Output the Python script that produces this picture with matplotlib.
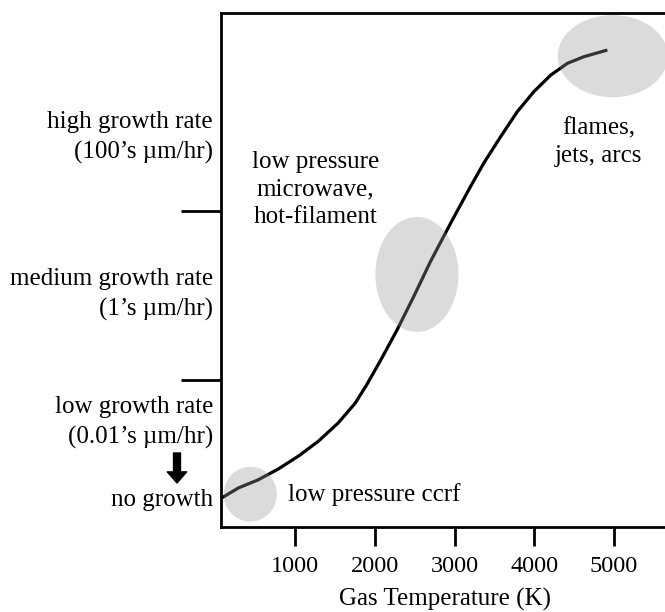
import numpy as np
import matplotlib.pyplot as plt
from matplotlib.patches import Ellipse

plt.rcParams['font.family'] = ['Liberation Serif', 'DejaVu Serif']

# growth curve vs gas temperature (y is a relative growth-rate scale, 0..1)
temp_k = [69, 283, 535, 786, 1038, 1289, 1541, 1751, 1893, 2069, 2279, 2488,
          2698, 2908, 3050, 3201, 3369, 3579, 3789, 3998, 4208, 4418, 4627, 4921]
growth = [0.055, 0.075, 0.091, 0.112, 0.137, 0.166, 0.202, 0.240, 0.275, 0.323,
          0.383, 0.448, 0.516, 0.578, 0.619, 0.662, 0.708, 0.759, 0.808, 0.847,
          0.879, 0.902, 0.915, 0.928]

x_ticks = [1000, 2000, 3000, 4000, 5000]
rate_bounds = [0.286, 0.615]

# regimes: (center T, center y, width T, height y)
regimes = [
    (434, 0.063, 667, 0.107),
    (2528, 0.491, 1044, 0.224),
    (4988, 0.916, 1384, 0.160),
]

rate_labels = [
    (0.758, "high growth rate\n(100\u2019s \u00b5m/hr)"),
    (0.451, "medium growth rate\n(1\u2019s \u00b5m/hr)"),
    (0.202, "low growth rate\n(0.01\u2019s \u00b5m/hr)"),
]

fig = plt.figure(figsize=(6.65, 6.12), dpi=100)
ax = fig.add_axes([0.3316, 0.1397, 0.675, 0.839])

ax.plot(temp_k, growth, color='black', lw=2.3, solid_joinstyle='round',
        solid_capstyle='butt', zorder=2)

for cx, cy, w, h in regimes:
    ax.add_patch(Ellipse((cx, cy), w, h, facecolor='#979797', alpha=0.34,
                         edgecolor='none', zorder=3))

ax.set_xlim(60, 5700)
ax.set_ylim(0, 1)

for side in ['left', 'top', 'bottom']:
    ax.spines[side].set_linewidth(2)
ax.spines['right'].set_visible(False)

ax.set_xticks(x_ticks)
ax.tick_params(axis='x', direction='out', length=14, width=2, pad=7, labelsize=17.5)
ax.set_yticks(rate_bounds)
ax.set_yticklabels([])
ax.tick_params(axis='y', direction='out', length=29, width=2)

ax.set_xlabel("Gas Temperature (K)", fontsize=18, labelpad=8)

ytr = ax.get_yaxis_transform()
for y, txt in rate_labels:
    ax.text(-0.017, y, txt, transform=ytr, ha='right', va='center',
            fontsize=18, linespacing=1.45)
ax.text(-0.017, 0.052, "no growth", transform=ytr, ha='right', va='center', fontsize=18)

# down arrow between "low growth rate" and "no growth"
ax.annotate('', xy=(177, 129), xytext=(177, 159), xycoords='figure pixels',
            textcoords='figure pixels',
            arrowprops=dict(arrowstyle='simple,head_length=8,head_width=14,tail_width=5',
                            mutation_scale=1, color='black', shrinkA=0, shrinkB=0))

ax.text(912, 0.062, "low pressure ccrf", ha='left', va='center', fontsize=18)
ax.text(1250, 0.657, "low pressure\nmicrowave,\nhot-filament", ha='center', va='center',
        fontsize=18, linespacing=1.32)
ax.text(4812, 0.749, "flames,\njets, arcs", ha='center', va='center',
        fontsize=18, linespacing=1.32)

fig.savefig("out.png", dpi=100)
